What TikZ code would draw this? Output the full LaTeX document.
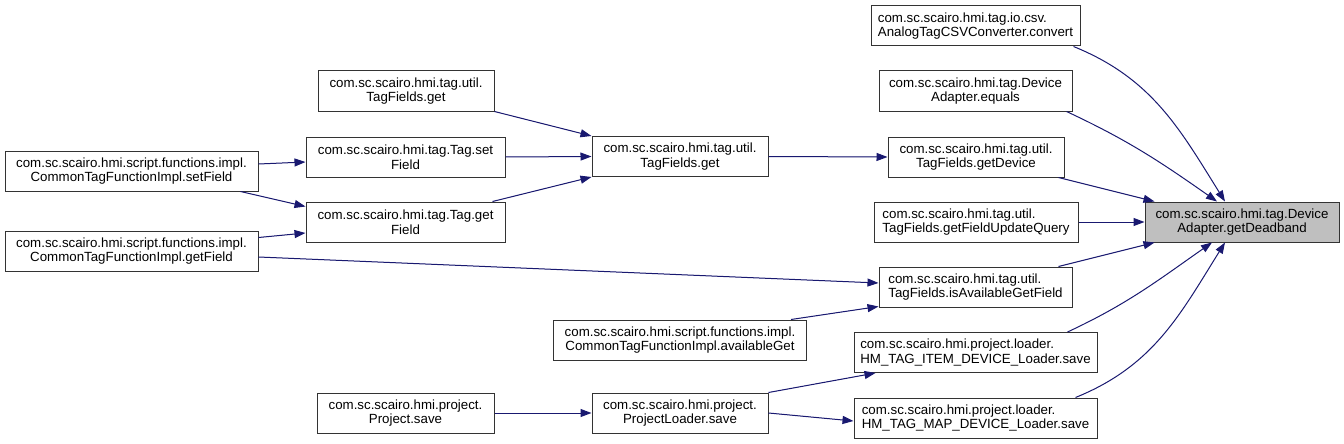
\documentclass[tikz,border=0pt]{standalone}
\usepackage{fontspec}
\setmainfont{Liberation Sans}
\usepackage{tikz}
\usetikzlibrary{positioning,arrows.meta}
\definecolor{CallBlue}{RGB}{25,25,112}
\definecolor{BoxGray}{RGB}{191,191,191}

\begin{document}
\begin{tikzpicture}[
    x=1pt,
    y=1pt,
    font=\fontsize{13.3}{14.5}\selectfont,
    >={Triangle[length=11pt,width=8pt]},
    fn/.style={
        draw=black!80,
        line width=1pt,
        fill=white,
        align=center,
        inner sep=2pt,
        minimum height=40pt
    },
    focus/.style={
        fn,
        fill=BoxGray
    },
    call/.style={
        ->,
        line width=1pt,
        draw=CallBlue,
        fill=CallBlue
    }
]
\useasboundingbox (0,0) rectangle (1344,-444);

\node[focus, minimum width=194pt] (deadband) at (1242,-222) {com.sc.scairo.hmi.tag.Device\\Adapter.getDeadband};

\node[fn, minimum width=209pt, align=left] (convert) at (975.5,-26) {com.sc.scairo.hmi.tag.io.csv.\\AnalogTagCSVConverter.convert};
\node[fn, minimum width=193pt] (equals) at (975.5,-91) {com.sc.scairo.hmi.tag.Device\\Adapter.equals};
\node[fn, minimum width=176pt] (getdevice) at (976,-157) {com.sc.scairo.hmi.tag.util.\\TagFields.getDevice};
\node[fn, minimum width=204pt, align=left] (updatequery) at (976,-222) {com.sc.scairo.hmi.tag.util.\\TagFields.getFieldUpdateQuery};
\node[fn, minimum width=193pt, align=left] (isavail) at (975.5,-287) {com.sc.scairo.hmi.tag.util.\\TagFields.isAvailableGetField};
\node[fn, minimum width=243pt, align=left] (itemsave) at (975.5,-352.5) {com.sc.scairo.hmi.project.loader.\\HM\_TAG\_ITEM\_DEVICE\_Loader.save};
\node[fn, minimum width=243pt, align=left] (mapsave) at (975.5,-418) {com.sc.scairo.hmi.project.loader.\\HM\_TAG\_MAP\_DEVICE\_Loader.save};

\node[fn, minimum width=176pt] (fieldsget) at (680,-156.5) {com.sc.scairo.hmi.tag.util.\\TagFields.get};
\node[fn, minimum width=253pt] (availget) at (680,-340) {com.sc.scairo.hmi.script.functions.impl.\\CommonTagFunctionImpl.availableGet};
\node[fn, minimum width=176pt] (loadersave) at (680,-413) {com.sc.scairo.hmi.project.\\ProjectLoader.save};

\node[fn, minimum width=176pt] (fieldsget2) at (406,-91) {com.sc.scairo.hmi.tag.util.\\TagFields.get};
\node[fn, minimum width=199pt] (tagset) at (405.5,-157) {com.sc.scairo.hmi.tag.Tag.set\\Field};
\node[fn, minimum width=199pt] (tagget) at (405.5,-222) {com.sc.scairo.hmi.tag.Tag.get\\Field};
\node[fn, minimum width=177pt] (projsave) at (405.5,-413) {com.sc.scairo.hmi.project.\\Project.save};

\node[fn, minimum width=253pt] (commonset) at (131.5,-171) {com.sc.scairo.hmi.script.functions.impl.\\CommonTagFunctionImpl.setField};
\node[fn, minimum width=253pt] (commonget) at (131.5,-251) {com.sc.scairo.hmi.script.functions.impl.\\CommonTagFunctionImpl.getField};

\draw[call] (fieldsget2.south east) -- (fieldsget.north west);
\draw[call] (tagset.east) -- (fieldsget.west);
\draw[call] ([xshift=-13pt]tagget.north east) -- (fieldsget.south west);
\draw[call] (fieldsget.east) -- (getdevice.west);

\draw[call] ([yshift=7pt]commonset.east) -- ([yshift=-5pt]tagset.west);
\draw[call] ([xshift=-18pt]commonset.south east) -- ([yshift=-5pt]tagget.north west);
\draw[call] ([yshift=-7pt]commonget.north east) -- ([yshift=-11pt]tagget.west);
\draw[call] ([yshift=-6pt]commonget.east) -- ([yshift=4pt]isavail.west);
\draw[call] ([xshift=-16pt]availget.north east) -- ([yshift=1pt]isavail.south west);

\draw[call] (projsave.east) -- (loadersave.west);
\draw[call] (loadersave.north east) -- ([xshift=22pt]itemsave.south west);
\draw[call] (loadersave.east) -- ([yshift=-3pt]mapsave.west);

\draw[call, fill=none] ([xshift=-7pt]convert.south east) to[out=-22, in=122] ([xshift=-17pt]deadband.north);
\draw[call, fill=none] ([xshift=-6pt]equals.south east) to[out=-25, in=145] ([xshift=-25pt]deadband.north);
\draw[call] ([xshift=-6pt]getdevice.south east) -- ([xshift=10pt]deadband.north west);
\draw[call] (updatequery.east) -- (deadband.west);
\draw[call] ([xshift=-14pt]isavail.north east) -- ([xshift=10pt]deadband.south west);
\draw[call, fill=none] ([xshift=-30pt]itemsave.north east) to[out=25, in=-145] ([xshift=-30pt]deadband.south);
\draw[call, fill=none] ([xshift=-22pt]mapsave.north east) to[out=22, in=-122] ([xshift=-17pt]deadband.south);

\end{tikzpicture}
\end{document}
